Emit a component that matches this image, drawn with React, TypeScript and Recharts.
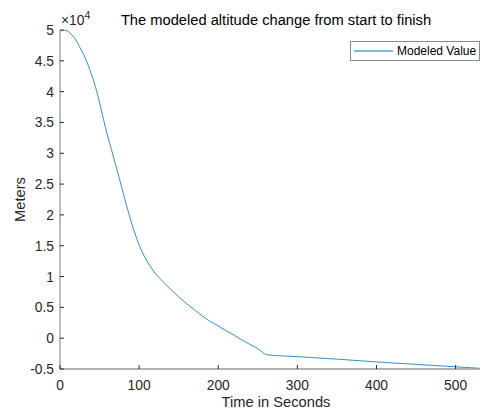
import React from "react";
import { LineChart, Line, XAxis, YAxis, Legend } from "recharts";

// time in seconds and modeled altitude in meters
const times = [
  0, 5, 10, 15, 20, 25, 30, 35, 40, 45, 50, 55, 60, 65, 70, 75, 80, 85, 90, 95,
  100, 105, 110, 120, 130, 140, 150, 160, 170, 180, 190, 200, 210, 220, 230,
  240, 250, 262, 300, 350, 400, 450, 500, 546,
];
const altitudes = [
  50000, 49980, 49800, 49200, 48400, 47200, 46000, 44500, 42700, 40700, 38200,
  35500, 32900, 30600, 28300, 25900, 23500, 21100, 18900, 16900, 15100, 13700,
  12500, 10600, 9200, 7900, 6700, 5600, 4600, 3600, 2700, 2000, 1200, 500,
  -300, -1000, -1700, -2700, -3000, -3400, -3850, -4250, -4650, -5000,
];
const xTicks = [0, 100, 200, 300, 400, 500];
const yTicks = [-5000, 0, 5000, 10000, 15000, 20000, 25000, 30000, 35000, 40000, 45000, 50000];
const seriesName = "Modeled Value";

const data = times.map((t, i) => ({ t, alt: altitudes[i] }));

const FONT = '"Liberation Sans", Arial, Helvetica, sans-serif';
const INK = "#262626";
const BLUE = "#0072BD";

const XTick = (props: any) => {
  const { x, y, payload } = props;
  return (
    <g>
      <line x1={x} y1={y} x2={x} y2={y - 4} stroke={INK} strokeWidth={1} />
      <text x={x} y={y + 20.5} textAnchor="middle" fontSize={13.8} fill={INK} fontFamily={FONT}>
        {payload.value}
      </text>
    </g>
  );
};

const YTick = (props: any) => {
  const { x, y, payload } = props;
  return (
    <g>
      <line x1={x} y1={y} x2={x + 4} y2={y} stroke={INK} strokeWidth={1} />
      <text x={x - 6} y={y + 5} textAnchor="end" fontSize={13.8} fill={INK} fontFamily={FONT}>
        {payload.value / 10000}
      </text>
    </g>
  );
};

const YLabel = (props: any) => {
  const { viewBox } = props;
  const cx = 19.5;
  const cy = viewBox.y + viewBox.height / 2;
  return (
    <text
      x={cx}
      y={cy}
      transform={`rotate(-90, ${cx}, ${cy})`}
      textAnchor="middle"
      dominantBaseline="central"
      fontSize={14.7}
      fill={INK}
      fontFamily={FONT}
    >
      Meters
    </text>
  );
};

const LegendBox = (props: any) => {
  const item = (props.payload || [])[0];
  return (
    <div
      style={{
        boxSizing: "border-box",
        width: 130,
        height: 20,
        border: "1px solid #8a8a8a",
        background: "#fff",
        display: "flex",
        alignItems: "center",
        fontFamily: FONT,
        fontSize: 12,
        color: "#000",
      }}
    >
      <svg width={46} height={10} style={{ flex: "none" }}>
        <line x1={3} y1={5} x2={42} y2={5} stroke={item ? item.color : BLUE} strokeWidth={1} />
      </svg>
      <span style={{ whiteSpace: "nowrap" }}>{item ? item.value : seriesName}</span>
    </div>
  );
};

export default function App() {
  return (
    <div
      style={{
        position: "absolute",
        left: 0,
        top: 0,
        width: 480,
        height: 410,
        overflow: "hidden",
        background: "#fff",
        fontFamily: FONT,
      }}
    >
      <div
        style={{
          position: "absolute",
          left: 0,
          top: 13,
          width: 552,
          textAlign: "center",
          fontSize: 14.7,
          lineHeight: 1,
          color: "#000",
          whiteSpace: "nowrap",
        }}
      >
        The modeled altitude change from start to finish
      </div>
      <div
        style={{
          position: "absolute",
          left: 61,
          top: 14,
          fontSize: 13.8,
          lineHeight: 1,
          color: INK,
          whiteSpace: "nowrap",
        }}
      >
        ×10<sup style={{ fontSize: 10.5, verticalAlign: 0, position: "relative", top: -6 }}>4</sup>
      </div>
      <LineChart
        width={492}
        height={410}
        data={data}
        margin={{ top: 30, right: 0, bottom: 0, left: 0 }}
      >
        <XAxis
          dataKey="t"
          type="number"
          domain={[0, 546]}
          ticks={xTicks}
          allowDataOverflow
          height={41}
          tickSize={0}
          tickMargin={0}
          tickLine={false}
          tick={<XTick />}
          axisLine={{ stroke: "#9a9a9a", strokeWidth: 1.5 }}
          label={{
            value: "Time in Seconds",
            position: "insideBottom",
            offset: 3,
            fontSize: 14.7,
            fill: INK,
            fontFamily: FONT,
          }}
        />
        <YAxis
          type="number"
          domain={[-5000, 50000]}
          ticks={yTicks}
          allowDataOverflow
          width={60}
          tickSize={0}
          tickMargin={0}
          tickLine={false}
          tick={<YTick />}
          axisLine={{ stroke: "#7a7a7a", strokeWidth: 1 }}
          label={<YLabel />}
        />
        <Legend
          layout="horizontal"
          verticalAlign="middle"
          align="center"
          wrapperStyle={{ top: 41, left: 350, width: 130, height: 20 }}
          content={<LegendBox />}
        />
        <Line
          type="monotone"
          dataKey="alt"
          name={seriesName}
          stroke={BLUE}
          strokeWidth={0.8}
          dot={false}
          isAnimationActive={false}
        />
      </LineChart>
    </div>
  );
}
